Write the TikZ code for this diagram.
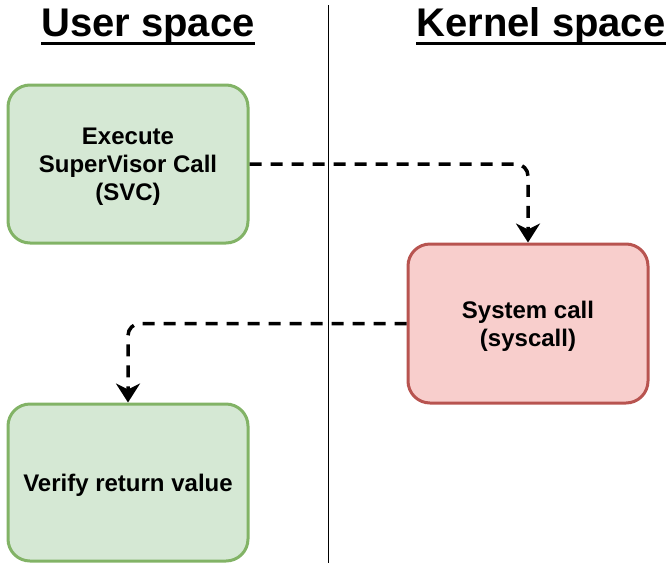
\documentclass[tikz,border=0pt]{standalone}
\usepackage{fontspec}
\setmainfont{Liberation Sans}
\usetikzlibrary{arrows.meta}
\definecolor{gfill}{HTML}{D5E8D4}
\definecolor{gline}{HTML}{82B366}
\definecolor{rfill}{HTML}{F8CECC}
\definecolor{rline}{HTML}{B85450}
\newcommand{\topstrut}{\rule{0pt}{22.5pt}}
\tikzset{
  box/.style={rounded corners=22pt, line width=3pt, minimum width=240pt, align=center,
    font=\fontsize{24}{28}\selectfont\bfseries, inner sep=0pt},
  gbox/.style={box, draw=gline, fill=gfill},
  rbox/.style={box, draw=rline, fill=rfill},
  flow/.style={line width=3.5pt, dash pattern=on 12pt off 9pt, rounded corners=12pt,
    -{Stealth[length=19pt,width=24pt,inset=6pt]}},
  header/.style={font=\fontsize{40}{44}\selectfont\bfseries, inner sep=0pt, anchor=base}
}
\begin{document}
\begin{tikzpicture}[x=1pt,y=-1pt]
\useasboundingbox (0,0) rectangle (669,563);
\draw[line width=1.5pt] (328.5,5) -- (328.5,563);
\node[header] (us) at (148,36) {User space};
\node[header] (ks) at (541,36) {Kernel space};
\draw[line width=3pt] ([yshift=-7.5pt]us.base west) -- ([yshift=-7.5pt]us.base east);
\draw[line width=3pt] ([yshift=-7.5pt]ks.base west) -- ([yshift=-7.5pt]ks.base east);
\node[gbox, minimum height=158pt] (svc) at (128,164) {\topstrut Execute\\SuperVisor Call\\(SVC)};
\node[rbox, minimum height=159pt] (sys) at (528,323.5) {\topstrut System call\\(syscall)};
\node[gbox, minimum height=157pt] (ver) at (128,482.5) {\topstrut Verify return value};
\draw[flow] (svc.east) -| (sys.north);
\draw[flow] (sys.west) -| (ver.north);
\end{tikzpicture}
\end{document}
